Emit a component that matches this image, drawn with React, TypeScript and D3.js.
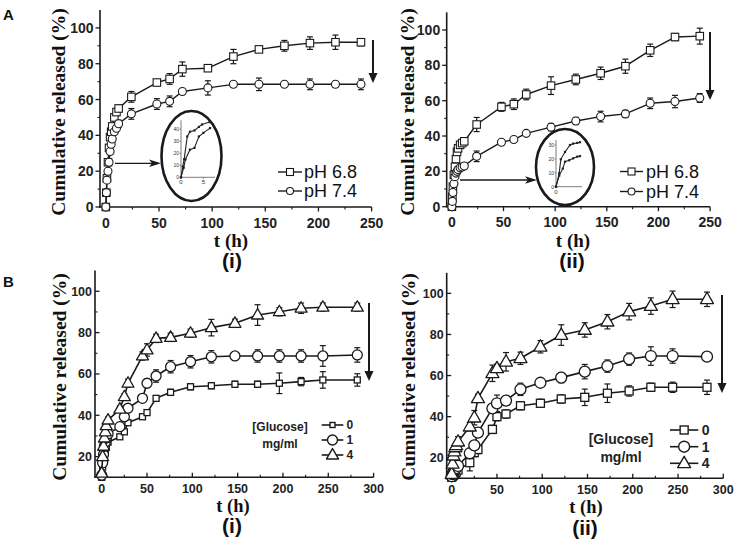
import React from 'react';
import * as d3 from 'd3';

// ---------------- DATA ----------------
const timesA = [0, 0.5, 1, 2, 3, 4, 5, 6, 8, 10, 12, 24, 48, 60, 72, 96, 120, 144, 168, 192, 216, 240];
const ai_pH68 = [0, 8, 16, 25, 33, 39, 42, 45, 50, 53, 55, 61.5, 69.5, 71.5, 77, 77.5, 84, 88, 90, 91.5, 92, 92];
const ai_pH68Err = [0, 1, 1, 1, 1, 1, 1, 1, 1.5, 2, 2, 3, 1.5, 3, 4, 1.5, 4, 1.5, 3, 3.5, 4, 2];
const ai_pH74 = [0, 8, 15, 20, 25, 31, 35, 38, 42, 44, 46.5, 52, 57.5, 59, 64.5, 66.5, 68.5, 68.5, 68.5, 68.5, 68.5, 68.5];
const ai_pH74Err = [0, 1, 1, 1, 1, 1, 1, 1, 1, 1.5, 2, 3, 3, 3, 1.5, 4, 1.5, 3.5, 1, 3, 1.5, 3];
const aii_pH68 = [0, 5.7, 11.3, 18, 22.6, 27, 31, 33, 35, 36, 37, 46.5, 56.5, 58, 63.5, 68.5, 72, 75.5, 79.5, 88.5, 96, 96.5];
const aii_pH68Err = [1, 1, 1, 1, 1, 1, 1, 1, 1, 1, 2, 4, 2.5, 3, 3, 5, 3, 3.5, 4, 3.5, 2, 4.5];
const aii_pH74 = [0, 3, 8, 13, 17, 19, 20, 21, 22, 22.5, 23, 28.5, 36.5, 38, 41.5, 45, 48.5, 51, 52.5, 58.5, 59.5, 61.5];
const aii_pH74Err = [1, 1, 1, 1, 1, 1, 1, 1, 1, 1, 1, 3, 1, 1, 1, 2, 2, 3, 2, 3, 3.5, 2.5];

const timesB = [0, 1, 2, 3, 4, 5, 7, 20, 25, 29, 45, 50, 60, 76, 98, 121, 147, 172, 196, 220, 244, 282];
const bi_g0 = [10, 15, 18, 21, 23, 25, 27, 29.6, 32, 36.4, 39.3, 41.3, 48.2, 51.1, 53.8, 54.3, 55, 55, 55.5, 56.3, 57.1, 57.1];
const bi_g0Err = [1, 1, 1, 1, 1, 1, 1, 1, 1, 1, 1, 1, 1, 1.5, 1.5, 1.5, 1.5, 1.5, 5, 2, 4, 3];
const bi_g1 = [11, 17, 21, 25, 27, 29, 31, 34.5, 39.3, 43.4, 48.2, 55.5, 59, 63.5, 65.9, 68.3, 68.7, 68.7, 68.7, 68.7, 68.7, 69.2];
const bi_g1Err = [1, 1, 1, 1, 1, 1, 1, 1, 1.5, 1.5, 1.5, 2, 3, 3, 3, 3, 1, 3, 3, 3, 5, 3.5];
const bi_g4 = [12, 20, 25, 29, 32, 35, 37.7, 43, 49, 55.5, 68.7, 71.6, 77.2, 77.7, 79.7, 82.4, 84.5, 88.5, 90.1, 91.8, 92.3, 92.3];
const bi_g4Err = [1, 1, 1, 1, 1, 1, 1.5, 1.5, 1.5, 2, 2, 3, 2, 2, 2, 4, 2, 5, 2, 2.5, 2, 2];
const bii_g0 = [10.5, 11, 11.5, 12, 12.5, 13, 14, 17.6, 22.5, 24, 33.8, 40, 41.3, 45.3, 46.5, 48.6, 49.4, 51.4, 52.5, 54.3, 54.3, 54.3];
const bii_g0Err = [1, 1, 1, 1, 1, 1, 1, 4, 2, 2, 2, 2, 2, 2, 2, 2, 4, 4.5, 2.5, 2, 2.5, 3.5];
const bii_g1 = [11, 12, 13, 14, 14.5, 15, 16, 22.2, 26, 32.2, 44, 46.5, 47.8, 53.3, 56.5, 59, 61.9, 64.6, 68, 69.5, 69.5, 69.2];
const bii_g1Err = [1, 1, 1, 1, 1, 1, 1, 1.5, 1.5, 1.5, 2, 4, 2, 3, 2, 2.5, 3.5, 3, 3, 4.5, 3.5, 1.5];
const bii_g4 = [12, 17, 21, 23, 25, 26, 27.8, 35.1, 39.5, 48.9, 61.1, 63.5, 66.7, 68.4, 74, 79.7, 82.2, 86.2, 91.1, 93.8, 97.1, 97.1];
const bii_g4Err = [1, 1, 1, 1, 1, 1, 2.5, 2, 3.5, 2, 4, 2, 4.5, 3, 3, 5, 3.5, 3.5, 4, 4, 4, 3.5];

// insets (early-time zoom)
const insetAiFastX = [0, 0.4, 0.7, 1.4, 2, 3, 4, 4.7, 6.4];
const insetAiFastY = [0, 9, 15, 34, 38, 39, 42, 44, 46];
const insetAiSlowX = [0, 0.6, 1, 2, 3, 4, 5, 6.5];
const insetAiSlowY = [0, 8, 15, 23, 24.5, 34, 37, 41];
const insetAiiFastX = [0, 0.8, 1.2, 2.25, 3.5, 4.3, 5.3, 6];
const insetAiiFastY = [0, 9.6, 19.7, 25, 30, 31, 31.5, 32];
const insetAiiSlowX = [0, 0.8, 1.7, 2.25, 3.3, 4.3, 5.3, 6];
const insetAiiSlowY = [0, 8, 13, 18, 19, 20.4, 21.6, 22];

const xTicksA = [0, 50, 100, 150, 200, 250];
const xMinorA = [25, 75, 125, 175, 225];
const yTicksA = [0, 20, 40, 60, 80, 100];
const yMinorA = [10, 30, 50, 70, 90];
const xTicksB = [0, 50, 100, 150, 200, 250, 300];
const xMinorB = [25, 75, 125, 175, 225, 275];
const yTicksB = [20, 40, 60, 80, 100];
const yMinorB = [30, 50, 70, 90];
const legendA = ['pH 6.8', 'pH 7.4'];
const legendB = ['0', '1', '4'];
const legendBTitle = ['[Glucose]', 'mg/ml'];
const subLabels = ['(i)', '(ii)'];
const yTitle = 'Cumulative released (%)';
const xTitle = 't (h)';

// ---------------- STYLE ----------------
const SANS = '"Liberation Sans", Arial, sans-serif';
const SERIF = '"Liberation Serif", "Times New Roman", serif';
const INK = '#1a1a1a';

type Shape = 'square' | 'circle' | 'triangle';

function Marker({ shape, cx, cy, s, sw }: { shape: Shape; cx: number; cy: number; s: number; sw: number }) {
  if (shape === 'square')
    return <rect x={cx - s / 2} y={cy - s / 2} width={s} height={s} fill="#fff" stroke={INK} strokeWidth={sw} />;
  if (shape === 'circle') return <circle cx={cx} cy={cy} r={s / 2} fill="#fff" stroke={INK} strokeWidth={sw} />;
  const h = s * 0.87;
  return (
    <polygon
      points={`${cx},${cy - h * 0.62} ${cx - s / 2},${cy + h * 0.38} ${cx + s / 2},${cy + h * 0.38}`}
      fill="#fff"
      stroke={INK}
      strokeWidth={sw}
      strokeLinejoin="round"
    />
  );
}

interface SeriesCfg {
  x: number[];
  y: number[];
  e: number[];
  shape: Shape;
  size: number;
}

interface PanelCfg {
  xDomain: [number, number];
  xRange: [number, number];
  yDomain: [number, number];
  yRange: [number, number];
  xTicks: number[];
  xMinor: number[];
  yTicks: number[];
  yMinor: number[];
  tickOut: boolean;
  tickFont: number;
  xLabelDy: number;
  series: SeriesCfg[];
  lineW: number;
  markW: number;
  yTitlePos: [number, number];
  xTitlePos: [number, number];
  xTitleSize: number;
  subPos: [number, number];
  subSize: number;
  sub: string;
  arrow: [number, number, number];
}

function Panel({ p }: { p: PanelCfg }) {
  const x = d3.scaleLinear().domain(p.xDomain).range(p.xRange);
  const y = d3.scaleLinear().domain(p.yDomain).range(p.yRange);
  const x0 = p.xRange[0];
  const yb = p.yRange[0];
  const dir = p.tickOut ? 1 : -1;
  const [ax, ay1, ay2] = p.arrow;
  return (
    <g>
      {/* axes */}
      <line x1={x0} x2={x0} y1={y(p.yDomain[1])} y2={yb + 0.5} stroke={INK} strokeWidth={1.6} />
      <line x1={x0 - 0.5} x2={x(p.xDomain[1])} y1={yb} y2={yb} stroke={INK} strokeWidth={1.6} />
      {p.yTicks.map((t) => (
        <g key={'yt' + t}>
          <line x1={x0} x2={x0 - dir * 4.5} y1={y(t)} y2={y(t)} stroke={INK} strokeWidth={1.3} />
          <text
            x={x0 - (p.tickOut ? 6.5 : 3)}
            y={y(t) + p.tickFont * 0.36}
            textAnchor="end"
            fontFamily={SANS}
            fontWeight="bold"
            fontSize={p.tickFont}
            fill="#222"
          >
            {t}
          </text>
        </g>
      ))}
      {p.yMinor.map((t) => (
        <line key={'ym' + t} x1={x0} x2={x0 - dir * 2.5} y1={y(t)} y2={y(t)} stroke={INK} strokeWidth={1.1} />
      ))}
      {p.xTicks.map((t) => (
        <g key={'xt' + t}>
          <line x1={x(t)} x2={x(t)} y1={yb} y2={yb + dir * 4.5} stroke={INK} strokeWidth={1.3} />
          <text
            x={x(t)}
            y={yb + p.xLabelDy}
            textAnchor="middle"
            fontFamily={SANS}
            fontWeight="bold"
            fontSize={p.tickFont}
            fill="#222"
          >
            {t}
          </text>
        </g>
      ))}
      {p.xMinor.map((t) => (
        <line key={'xm' + t} x1={x(t)} x2={x(t)} y1={yb} y2={yb + dir * 2.5} stroke={INK} strokeWidth={1.1} />
      ))}
      {/* series */}
      {p.series.map((s, si) => {
        const pts: [number, number][] = s.x.map((t, i) => [x(t), y(s.y[i])]);
        const path = d3.line()(pts) || '';
        return (
          <g key={'s' + si}>
            <path d={path} fill="none" stroke={INK} strokeWidth={p.lineW} strokeLinejoin="round" />
            {s.x.map((t, i) => {
              const e = s.e[i];
              if (!e) return null;
              const cx = x(t);
              const cw = 3;
              return (
                <g key={'e' + i} stroke={INK} strokeWidth={1.2}>
                  <line x1={cx} x2={cx} y1={y(s.y[i] + e)} y2={y(s.y[i] - e)} />
                  <line x1={cx - cw} x2={cx + cw} y1={y(s.y[i] + e)} y2={y(s.y[i] + e)} />
                  <line x1={cx - cw} x2={cx + cw} y1={y(s.y[i] - e)} y2={y(s.y[i] - e)} />
                </g>
              );
            })}
            {pts.map(([cx, cy], i) => (
              <Marker key={'m' + i} shape={s.shape} cx={cx} cy={cy} s={s.size} sw={p.markW} />
            ))}
          </g>
        );
      })}
      {/* titles */}
      <text
        transform={`translate(${p.yTitlePos[0]},${p.yTitlePos[1]}) rotate(-90)`}
        textAnchor="middle"
        fontFamily={SERIF}
        fontWeight="bold"
        fontSize={19.5}
        fill="#111"
      >
        {yTitle}
      </text>
      <text
        x={p.xTitlePos[0]}
        y={p.xTitlePos[1]}
        textAnchor="middle"
        fontFamily={SERIF}
        fontWeight="bold"
        fontSize={p.xTitleSize}
        fill="#111"
      >
        {xTitle}
      </text>
      <text
        x={p.subPos[0]}
        y={p.subPos[1]}
        textAnchor="middle"
        fontFamily={SANS}
        fontWeight="bold"
        fontSize={p.subSize}
        fill="#111"
      >
        {p.sub}
      </text>
      {/* big arrow */}
      <line x1={ax} x2={ax} y1={ay1} y2={ay2 - 8} stroke={INK} strokeWidth={2} />
      <polygon points={`${ax - 4.5},${ay2 - 10} ${ax + 4.5},${ay2 - 10} ${ax},${ay2}`} fill={INK} />
    </g>
  );
}

interface InsetCfg {
  cx: number;
  cy: number;
  rx: number;
  ry: number;
  xDomain: [number, number];
  xRange: [number, number];
  yDomain: [number, number];
  yRange: [number, number];
  yTicks: number[];
  xTicks: number[];
  curves: { x: number[]; y: number[] }[];
  arrow: [number, number, number];
}

function Inset({ c }: { c: InsetCfg }) {
  const x = d3.scaleLinear().domain(c.xDomain).range(c.xRange);
  const y = d3.scaleLinear().domain(c.yDomain).range(c.yRange);
  const [a1, a2, ay] = c.arrow;
  return (
    <g>
      <ellipse cx={c.cx} cy={c.cy} rx={c.rx} ry={c.ry} fill="#fff" stroke={INK} strokeWidth={2.6} />
      <line x1={c.xRange[0]} x2={c.xRange[0]} y1={c.yRange[0]} y2={c.yRange[1]} stroke="#444" strokeWidth={0.7} />
      <line x1={c.xRange[0]} x2={c.xRange[1]} y1={c.yRange[0]} y2={c.yRange[0]} stroke="#444" strokeWidth={0.7} />
      {c.yTicks.map((t) => (
        <g key={'it' + t}>
          <line x1={c.xRange[0]} x2={c.xRange[0] - 1.5} y1={y(t)} y2={y(t)} stroke="#444" strokeWidth={0.6} />
          <text x={c.xRange[0] - 2} y={y(t) + 1.8} textAnchor="end" fontFamily={SANS} fontSize={5} fill="#333">
            {t}
          </text>
        </g>
      ))}
      {c.xTicks.map((t) => (
        <g key={'ix' + t}>
          <line x1={x(t)} x2={x(t)} y1={c.yRange[0]} y2={c.yRange[0] + 1.5} stroke="#444" strokeWidth={0.6} />
          <text x={x(t)} y={c.yRange[0] + 7} textAnchor="middle" fontFamily={SANS} fontSize={6} fill="#333">
            {t}
          </text>
        </g>
      ))}
      {c.curves.map((cv, i) => {
        const pts: [number, number][] = cv.x.map((t, j) => [x(t), y(cv.y[j])]);
        return (
          <g key={'ic' + i}>
            <path d={d3.line()(pts) || ''} fill="none" stroke="#222" strokeWidth={1.1} />
            {pts.map(([px, py], j) => (
              <rect key={j} x={px - 1.1} y={py - 1.1} width={2.2} height={2.2} fill="#222" />
            ))}
          </g>
        );
      })}
      <line x1={a1} x2={a2 - 8} y1={ay} y2={ay} stroke={INK} strokeWidth={1.3} />
      <polygon points={`${a2 - 12},${ay - 3.8} ${a2},${ay} ${a2 - 12},${ay + 3.8} ${a2 - 9},${ay}`} fill={INK} />
    </g>
  );
}

function LegendA({ lx1, lx2, tx, rows }: { lx1: number; lx2: number; tx: number; rows: number[] }) {
  const shapes: Shape[] = ['square', 'circle'];
  return (
    <g>
      {legendA.map((l, i) => (
        <g key={l}>
          <line x1={lx1} x2={lx2} y1={rows[i]} y2={rows[i]} stroke={INK} strokeWidth={1.4} />
          <Marker shape={shapes[i]} cx={(lx1 + lx2) / 2} cy={rows[i]} s={7} sw={1.1} />
          <text x={tx} y={rows[i] + 6} fontFamily={SANS} fontSize={18} fill="#111">
            {l}
          </text>
        </g>
      ))}
    </g>
  );
}

function LegendB({
  titleX,
  titleY,
  fs,
  lx1,
  lx2,
  tx,
  rows,
  sizes,
}: {
  titleX: number;
  titleY: [number, number];
  fs: number;
  lx1: number;
  lx2: number;
  tx: number;
  rows: number[];
  sizes: number[];
}) {
  const shapes: Shape[] = ['square', 'circle', 'triangle'];
  return (
    <g>
      {legendBTitle.map((t, i) => (
        <text key={t} x={titleX} y={titleY[i]} textAnchor="middle" fontFamily={SANS} fontWeight="bold" fontSize={fs} fill="#222">
          {t}
        </text>
      ))}
      {legendB.map((l, i) => (
        <g key={l}>
          <line x1={lx1} x2={lx2} y1={rows[i]} y2={rows[i]} stroke={INK} strokeWidth={1.6} />
          <Marker shape={shapes[i]} cx={(lx1 + lx2) / 2} cy={rows[i]} s={sizes[i]} sw={1.4} />
          <text x={tx} y={rows[i] + fs * 0.36} fontFamily={SANS} fontWeight="bold" fontSize={fs} fill="#222">
            {l}
          </text>
        </g>
      ))}
    </g>
  );
}

const panels: PanelCfg[] = [
  {
    xDomain: [-5.5, 250],
    xRange: [100, 371.6],
    yDomain: [0, 110],
    yRange: [207, 10],
    xTicks: xTicksA,
    xMinor: xMinorA,
    yTicks: yTicksA,
    yMinor: yMinorA,
    tickOut: true,
    tickFont: 14,
    xLabelDy: 20.5,
    series: [
      { x: timesA, y: ai_pH68, e: ai_pH68Err, shape: 'square', size: 7.5 },
      { x: timesA, y: ai_pH74, e: ai_pH74Err, shape: 'circle', size: 8 },
    ],
    lineW: 1.4,
    markW: 1.1,
    yTitlePos: [65, 112],
    xTitlePos: [231, 247],
    xTitleSize: 19,
    subPos: [232, 268],
    subSize: 21,
    sub: subLabels[0],
    arrow: [373, 40, 83],
  },
  {
    xDomain: [-5, 250],
    xRange: [446.7, 710.1],
    yDomain: [0, 110],
    yRange: [206.7, 12.3],
    xTicks: xTicksA,
    xMinor: xMinorA,
    yTicks: yTicksA,
    yMinor: yMinorA,
    tickOut: true,
    tickFont: 14,
    xLabelDy: 20.5,
    series: [
      { x: timesA, y: aii_pH68, e: aii_pH68Err, shape: 'square', size: 7.5 },
      { x: timesA, y: aii_pH74, e: aii_pH74Err, shape: 'circle', size: 8 },
    ],
    lineW: 1.4,
    markW: 1.1,
    yTitlePos: [414, 112],
    xTitlePos: [573, 247],
    xTitleSize: 19,
    subPos: [572, 268],
    subSize: 21,
    sub: subLabels[1],
    arrow: [710, 32, 100],
  },
  {
    xDomain: [-7.4, 300],
    xRange: [95, 373.6],
    yDomain: [10, 110],
    yRange: [477.3, 270.6],
    xTicks: xTicksB,
    xMinor: xMinorB,
    yTicks: yTicksB,
    yMinor: yMinorB,
    tickOut: false,
    tickFont: 12.5,
    xLabelDy: 16,
    series: [
      { x: timesB, y: bi_g0, e: bi_g0Err, shape: 'square', size: 6 },
      { x: timesB, y: bi_g1, e: bi_g1Err, shape: 'circle', size: 10 },
      { x: timesB, y: bi_g4, e: bi_g4Err, shape: 'triangle', size: 12 },
    ],
    lineW: 1.6,
    markW: 1.3,
    yTitlePos: [66, 377],
    xTitlePos: [233, 512],
    xTitleSize: 18.5,
    subPos: [232, 533],
    subSize: 21,
    sub: subLabels[0],
    arrow: [369, 303, 381],
  },
  {
    xDomain: [-5.5, 300],
    xRange: [446.7, 723.3],
    yDomain: [10, 110],
    yRange: [478.3, 272.8],
    xTicks: xTicksB,
    xMinor: xMinorB,
    yTicks: yTicksB,
    yMinor: yMinorB,
    tickOut: false,
    tickFont: 12.5,
    xLabelDy: 16,
    series: [
      { x: timesB, y: bii_g0, e: bii_g0Err, shape: 'square', size: 8 },
      { x: timesB, y: bii_g1, e: bii_g1Err, shape: 'circle', size: 11 },
      { x: timesB, y: bii_g4, e: bii_g4Err, shape: 'triangle', size: 13 },
    ],
    lineW: 1.6,
    markW: 1.3,
    yTitlePos: [415, 377],
    xTitlePos: [586, 513],
    xTitleSize: 18.5,
    subPos: [585, 535],
    subSize: 21,
    sub: subLabels[1],
    arrow: [722, 295, 393],
  },
];

const insets: InsetCfg[] = [
  {
    cx: 191.5,
    cy: 156,
    rx: 30,
    ry: 45,
    xDomain: [0, 7.6],
    xRange: [181, 215],
    yDomain: [0, 47.5],
    yRange: [177.3, 120.3],
    yTicks: [0, 10, 20, 30, 40],
    xTicks: [0, 5],
    curves: [
      { x: insetAiFastX, y: insetAiFastY },
      { x: insetAiSlowX, y: insetAiSlowY },
    ],
    arrow: [115, 161, 163.3],
  },
  {
    cx: 565,
    cy: 167,
    rx: 29,
    ry: 38,
    xDomain: [0, 6.5],
    xRange: [556, 582],
    yDomain: [0, 33.6],
    yRange: [186.7, 140],
    yTicks: [0, 10, 20, 30],
    xTicks: [0],
    curves: [
      { x: insetAiiFastX, y: insetAiiFastY },
      { x: insetAiiSlowX, y: insetAiiSlowY },
    ],
    arrow: [460, 537, 180],
  },
];

export default function App() {
  return (
    <div style={{ position: 'fixed', left: 0, top: 0 }}>
      <svg width={736} height={541} viewBox="0 0 736 541" style={{ display: 'block', background: '#fff' }}>
        <rect x={0} y={0} width={736} height={541} fill="#fff" />
        <text x={3} y={20} fontFamily={SANS} fontWeight="bold" fontSize={15} fill="#111">
          A
        </text>
        <text x={3} y={287} fontFamily={SANS} fontWeight="bold" fontSize={15} fill="#111">
          B
        </text>
        {panels.map((p, i) => (
          <Panel key={i} p={p} />
        ))}
        {insets.map((c, i) => (
          <Inset key={i} c={c} />
        ))}
        <LegendA lx1={278} lx2={302} tx={304} rows={[172, 191]} />
        <LegendA lx1={620} lx2={643} tx={646} rows={[171.5, 191.5]} />
        <LegendB
          titleX={280}
          titleY={[431, 447.5]}
          fs={12}
          lx1={321.7}
          lx2={343.3}
          tx={346.5}
          rows={[425, 440, 455]}
          sizes={[5, 10, 12]}
        />
        <LegendB
          titleX={621}
          titleY={[443.5, 461.7]}
          fs={14}
          lx1={670}
          lx2={698.3}
          tx={701.7}
          rows={[430, 446.7, 463.3]}
          sizes={[8, 11, 13]}
        />
      </svg>
    </div>
  );
}
